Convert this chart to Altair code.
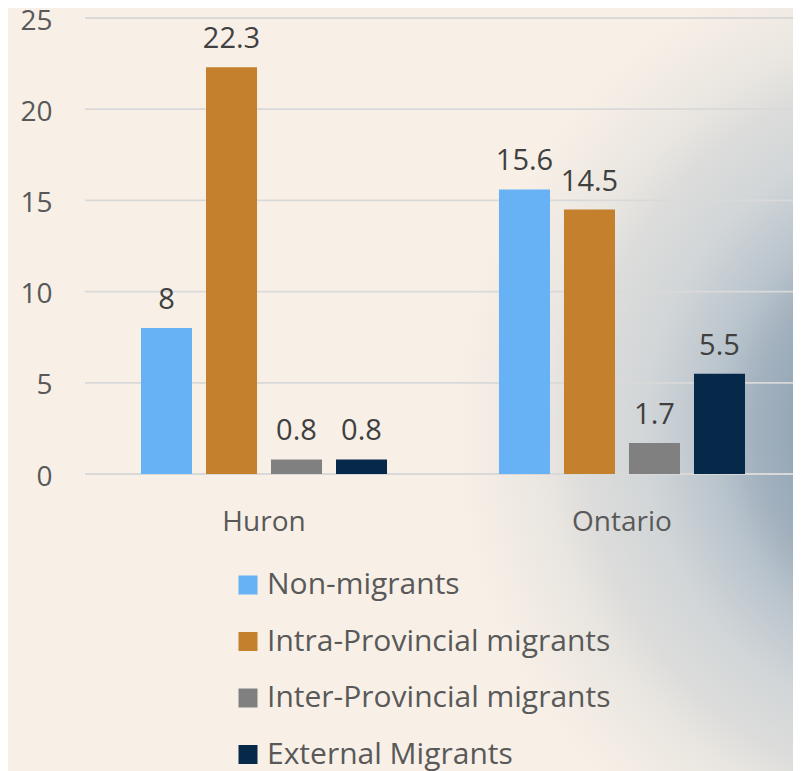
import altair as alt
import pandas as pd

regions = ["Huron", "Ontario"]
groups = ["Non-migrants", "Intra-Provincial migrants", "Inter-Provincial migrants", "External Migrants"]
huron_values = [8, 22.3, 0.8, 0.8]
ontario_values = [15.6, 14.5, 1.7, 5.5]
y_ticks = [0, 5, 10, 15, 20, 25]
colors = ["#67b1f5", "#c4802c", "#808080", "#062849"]

rows = []
for g, v in zip(groups, huron_values):
    rows.append({"region": "Huron", "group": g, "value": v})
for g, v in zip(groups, ontario_values):
    rows.append({"region": "Ontario", "group": g, "value": v})
df = pd.DataFrame(rows)
grid_df = pd.DataFrame({"tick": y_ticks})

FONT = "Open Sans"
BG = "#f8f0e7"

yscale = alt.Scale(domain=[0, 25], nice=False)
xscale = alt.Scale(domain=regions, range=[0, 716], paddingInner=0.2737, paddingOuter=0.1369)
offscale = alt.Scale(paddingInner=0.215, paddingOuter=0.1075)

yaxis = alt.Axis(title=None, values=y_ticks, grid=False, domain=False, ticks=False,
                 tickSize=0, labelPadding=33, labelFontSize=28, labelColor="#595959",
                 labelFont=FONT, labelBaseline="alphabetic", labelOffset=11, zindex=1)
xaxis = alt.Axis(title=None, labelAngle=0, domain=False, ticks=False, tickSize=0,
                 labelPadding=56, labelBaseline="alphabetic", labelFontSize=28,
                 labelColor="#595959", labelFont=FONT, grid=False, zindex=1)

gradient = {
    "gradient": "radial",
    "x1": 1.018, "y1": 0.558, "r1": 0,
    "x2": 1.018, "y2": 0.558, "r2": 0.674,
    "stops": [
        {"offset": 0.0, "color": "#8497a9"},
        {"offset": 0.29, "color": "#93a6b6"},
        {"offset": 0.38, "color": "#a4b2bf"},
        {"offset": 0.45, "color": "#b8c3cc"},
        {"offset": 0.49, "color": "#c0c9d0"},
        {"offset": 0.59, "color": "#d2d6d8"},
        {"offset": 0.7, "color": "#dcdcdb"},
        {"offset": 0.77, "color": "#e8e5e0"},
        {"offset": 0.95, "color": BG},
    ],
}

bg_layer = alt.Chart(alt.Data(values=[{"a": 1}])).mark_rect(fill=gradient, strokeWidth=0).encode(
    x=alt.value(215), x2=alt.value(716), y=alt.value(-18), y2=alt.value(753)
)

grid = alt.Chart(grid_df).mark_rule(color="#d9d9d9", strokeWidth=1.8).encode(
    y=alt.Y("tick:Q", scale=yscale, axis=yaxis)
)

base = alt.Chart(df)

bars = base.mark_bar().encode(
    x=alt.X("region:N", scale=xscale, sort=regions, axis=xaxis),
    xOffset=alt.XOffset("group:N", sort=groups, scale=offscale),
    y=alt.Y("value:Q", scale=yscale, axis=yaxis),
    color=alt.Color("group:N", sort=groups,
                    scale=alt.Scale(domain=groups, range=colors),
                    legend=alt.Legend(orient="none", legendX=148, legendY=552, direction="vertical",
                                      title=None, symbolType="square", symbolSize=361,
                                      symbolStrokeWidth=0, labelFontSize=30, labelColor="#595959",
                                      labelFont=FONT, rowPadding=26.5, labelOffset=4, padding=0,
                                      labelLimit=600)),
)

labels = base.mark_text(baseline="alphabetic", dy=-19, fontSize=29, font=FONT, color="#404040").encode(
    x=alt.X("region:N", scale=xscale, sort=regions),
    xOffset=alt.XOffset("group:N", sort=groups, scale=offscale),
    y=alt.Y("value:Q", scale=yscale),
    text=alt.Text("value:Q"),
)

chart = alt.layer(bg_layer, grid, bars, labels).properties(
    width=708, height=456,
    autosize=alt.AutoSizeParams(type="none"),
    padding={"left": 77, "top": 10, "right": 0, "bottom": 297},
    background=BG,
).configure_view(stroke=None)

chart.save("out.html", embed_options={"renderer": "svg", "actions": False})
